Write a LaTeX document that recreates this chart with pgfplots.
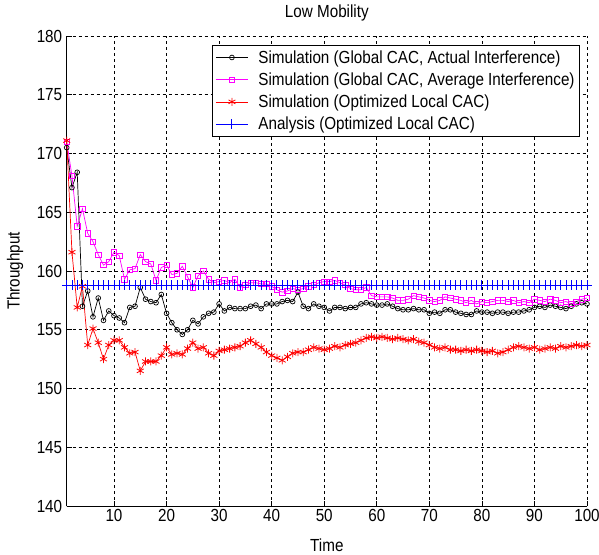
\documentclass[border=0pt]{standalone}
\usepackage{fontspec}
\setmainfont{Liberation Sans}[FakeStretch=0.87]
\usepackage{pgfplots}
\usepackage{pgfplotstable}
\pgfplotsset{compat=1.18}
\definecolor{mlmag}{RGB}{255,0,255}

\newcommand{\mlfont}{\fontsize{17.5}{20}\selectfont}

% x, global actual, global average, optimized local, analysis
\pgfplotstableread{
x blk mag red blu
1 170.5 171.0 171.1 158.8
2 167.1 168.1 161.6 158.8
3 168.4 163.8 156.9 158.8
4 157.0 165.3 158.7 158.8
5 158.3 163.2 153.7 158.8
6 156.1 162.5 155.1 158.8
7 157.7 161.4 153.9 158.8
8 155.8 160.5 152.5 158.8
9 156.6 160.8 153.7 158.8
10 156.2 161.6 154.1 158.8
11 156.0 161.3 154.1 158.8
12 155.6 159.3 153.5 158.8
13 156.9 160.1 153.0 158.8
14 157.0 160.2 153.1 158.8
15 158.6 161.4 151.5 158.8
16 157.6 160.8 152.3 158.8
17 157.4 160.6 152.3 158.8
18 157.3 159.2 152.3 158.8
19 158.0 160.3 152.8 158.8
20 156.4 160.5 153.5 158.8
21 155.6 159.7 152.9 158.8
22 155.0 159.8 153.0 158.8
23 154.6 160.4 152.9 158.8
24 155.0 159.5 153.4 158.8
25 155.8 158.6 153.9 158.8
26 155.5 159.6 153.4 158.8
27 156.1 160.0 153.5 158.8
28 156.4 159.3 153.0 158.8
29 156.5 159.0 152.8 158.8
30 157.2 159.1 153.2 158.8
31 156.6 159.2 153.3 158.8
32 156.9 159.0 153.4 158.8
33 156.8 159.3 153.5 158.8
34 156.8 158.6 153.6 158.8
35 156.8 158.8 153.9 158.8
36 157.0 159.0 154.1 158.8
37 157.1 159.0 153.8 158.8
38 156.8 158.9 153.5 158.8
39 157.2 158.9 153.1 158.8
40 157.2 158.7 152.8 158.8
41 157.2 158.4 152.6 158.8
42 157.4 158.2 152.4 158.8
43 157.5 158.3 152.7 158.8
44 157.4 158.5 153.0 158.8
45 158.2 158.4 153.1 158.8
46 157.0 158.5 153.1 158.8
47 156.8 158.7 153.3 158.8
48 157.2 158.8 153.5 158.8
49 157.0 159.0 153.4 158.8
50 156.9 159.1 153.3 158.8
51 156.6 159.1 153.4 158.8
52 156.9 159.2 153.6 158.8
53 156.9 159.0 153.5 158.8
54 156.8 158.8 153.7 158.8
55 156.9 158.5 153.8 158.8
56 156.9 158.4 153.9 158.8
57 157.2 158.4 154.1 158.8
58 157.3 158.6 154.3 158.8
59 157.2 157.9 154.4 158.8
60 157.1 157.8 154.3 158.8
61 157.1 157.8 154.4 158.8
62 157.2 157.8 154.3 158.8
63 157.0 157.7 154.2 158.8
64 156.8 157.5 154.3 158.8
65 156.7 157.5 154.2 158.8
66 156.7 157.6 154.1 158.8
67 156.8 157.9 154.2 158.8
68 156.7 157.8 154.0 158.8
69 156.7 157.7 153.9 158.8
70 156.4 157.5 153.7 158.8
71 156.5 157.4 153.5 158.8
72 156.4 157.5 153.4 158.8
73 156.7 157.8 153.5 158.8
74 156.7 157.7 153.3 158.8
75 156.5 157.6 153.3 158.8
76 156.4 157.5 153.2 158.8
77 156.3 157.3 153.3 158.8
78 156.3 157.5 153.2 158.8
79 156.6 157.2 153.3 158.8
80 156.5 157.4 153.2 158.8
81 156.5 157.3 153.1 158.8
82 156.4 157.4 153.2 158.8
83 156.5 157.5 153.0 158.8
84 156.5 157.5 153.1 158.8
85 156.4 157.4 153.3 158.8
86 156.5 157.5 153.5 158.8
87 156.5 157.3 153.6 158.8
88 156.6 157.4 153.5 158.8
89 156.7 157.3 153.4 158.8
90 156.9 157.6 153.5 158.8
91 157.0 157.5 153.3 158.8
92 156.9 157.4 153.4 158.8
93 157.1 157.6 153.5 158.8
94 157.0 157.5 153.4 158.8
95 156.9 157.3 153.6 158.8
96 156.8 157.4 153.5 158.8
97 157.0 157.2 153.6 158.8
98 157.2 157.4 153.7 158.8
99 157.3 157.6 153.6 158.8
100 157.2 157.7 153.7 158.8
}\tput

\begin{document}
\begin{tikzpicture}
\begin{axis}[
    at={(0pt,0pt)}, anchor=origin,
    scale only axis,
    width=520.3pt, height=470pt,
    xmin=1, xmax=100, ymin=140, ymax=180,
    xtick={10,20,...,100},
    ytick={140,145,...,180},
    axis lines*=left,
    axis line style={black, line width=0.9pt},
    tick align=inside,
    major tick length=5pt,
    tick style={black, line width=0.7pt},
    grid=major,
    major grid style={black, line width=0.6pt, dash pattern=on 3pt off 3pt},
    clip=false,
    /pgf/number format/assume math mode=true,
    tick label style={font=\mlfont},
    yticklabel style={xshift=-1pt},
    title={Low Mobility},
    title style={font=\mlfont, at={(axis description cs:0.5,1.036)}, anchor=center},
    xlabel={Time},
    xlabel style={font=\mlfont, at={(axis description cs:0.5,-0.083)}, anchor=center},
    ylabel={Throughput},
    ylabel style={font=\mlfont, at={(axis description cs:-0.0994,0.5)}, anchor=center},
    legend cell align=left,
    legend style={font=\mlfont, at={(1,1)}, anchor=north east, xshift=-7pt, yshift=-9pt,
        draw=black, line width=0.8pt, inner xsep=3pt, inner ysep=3pt, row sep=4pt,
        /tikz/every odd column/.append style={column sep=8pt}},
    legend image code/.code={
        \draw[mark repeat=2, mark phase=2] plot coordinates {(0pt,0pt) (16pt,0pt) (32pt,0pt)};
    },
]
\addplot[black, line width=0.7pt, mark=o, mark size=2.4pt, mark options={line width=0.7pt}]
    table[x=x, y=blk] {\tput};
\addlegendentry{Simulation (Global CAC, Actual Interference)}
\addplot[mlmag, line width=0.7pt, mark=square, mark size=2.7pt, mark options={line width=0.7pt}]
    table[x=x, y=mag] {\tput};
\addlegendentry{Simulation (Global CAC, Average Interference)}
\addplot[red, line width=0.7pt, mark=asterisk, mark size=4pt, mark options={line width=0.8pt}]
    table[x=x, y=red] {\tput};
\addlegendentry{Simulation (Optimized Local CAC)}
\addplot[blue, line width=0.9pt, mark=+, mark size=4.8pt, mark options={line width=0.9pt}]
    table[x=x, y=blu] {\tput};
\addlegendentry{Analysis (Optimized Local CAC)}
\end{axis}
\pgfresetboundingbox
\path[use as bounding box] (-66.7pt,-48pt) rectangle (532.3pt,506pt);
\end{tikzpicture}
\end{document}
